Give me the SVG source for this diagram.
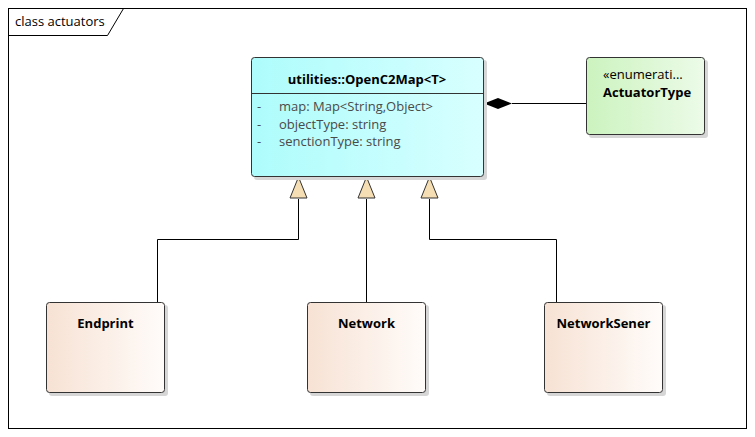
<svg xmlns="http://www.w3.org/2000/svg" width="755" height="437" viewBox="0 0 755 437">
<defs>
<linearGradient id="gCyan" x1="0" y1="0" x2="1" y2="0"><stop offset="0" stop-color="#aefcfc"/><stop offset="1" stop-color="#d8ffff"/></linearGradient>
<linearGradient id="gGreen" x1="0" y1="0" x2="1" y2="0"><stop offset="0" stop-color="#ccf3bf"/><stop offset="1" stop-color="#ecfbe8"/></linearGradient>
<linearGradient id="gPeach" x1="0" y1="0" x2="1" y2="0"><stop offset="0" stop-color="#f7e2d4"/><stop offset="1" stop-color="#fffcfa"/></linearGradient>
</defs>
<style>
text{font-family:"Open Sans","Noto Sans","DejaVu Sans",sans-serif;font-size:13px;fill:#000}
.b{font-weight:bold}
.attr{fill:#4a4a4a}
.shadow{fill:#d6d6d6}
.box{stroke:#333;stroke-width:1}
.conn{fill:none;stroke:#000;stroke-width:1}
.gen{fill:#f5deb3;stroke:#333;stroke-width:1}
</style>
<rect x="0" y="0" width="755" height="437" fill="#fff"/>
<g id="frame">
<rect x="8.5" y="8.5" width="738" height="420" fill="none" stroke="#000"/>
<path d="M8.5,35.5 H107.5 L123.5,8.5" fill="none" stroke="#000"/>
<text x="15" y="26" font-size="14">class actuators</text>
</g>
<g id="connectors">
<path class="conn" d="M157.5,302 V239.5 H298.5 V199"/>
<path class="conn" d="M366.5,302 V199"/>
<path class="conn" d="M556.5,302 V239.5 H429.5 V199"/>
<path class="gen" d="M298.5,177 L307,198 L290,198 Z"/>
<path class="gen" d="M366.5,177 L375,198 L358,198 Z"/>
<path class="gen" d="M429.5,177 L438,198 L421,198 Z"/>
<path class="conn" d="M512,103.5 H586"/>
<path d="M484,103.5 L498,98 L512,103.5 L498,109 Z" fill="#000"/>
</g>
<g id="OpenC2Map">
<rect class="shadow" x="254" y="60" width="233" height="120" rx="3"/>
<rect class="box" x="251.5" y="57.5" width="232" height="119" rx="3" fill="url(#gCyan)"/>
<line x1="251.5" y1="93.5" x2="483.5" y2="93.5" stroke="#333"/>
<text class="b" x="367" y="84" text-anchor="middle">utilities::OpenC2Map&lt;T&gt;</text>
<text class="attr" x="257" y="111">-</text>
<text class="attr" x="279" y="111">map: Map&lt;String,Object&gt;</text>
<text class="attr" x="257" y="129">-</text>
<text class="attr" x="279" y="129">objectType: string</text>
<text class="attr" x="257" y="146">-</text>
<text class="attr" x="279" y="146">senctionType: string</text>
</g>
<g id="ActuatorType">
<rect class="shadow" x="589" y="60" width="119" height="78" rx="3"/>
<rect class="box" x="586.5" y="57.5" width="118" height="77" rx="3" fill="url(#gGreen)"/>
<text x="603" y="79">«enumerati...</text>
<text class="b" x="603" y="97">ActuatorType</text>
</g>
<g id="Endprint">
<rect class="shadow" x="49" y="305" width="119" height="91" rx="3"/>
<rect class="box" x="46.5" y="302.5" width="118" height="90" rx="3" fill="url(#gPeach)"/>
<text class="b" x="105.5" y="328" text-anchor="middle">Endprint</text>
</g>
<g id="Network">
<rect class="shadow" x="310" y="305" width="119" height="91" rx="3"/>
<rect class="box" x="307.5" y="302.5" width="118" height="90" rx="3" fill="url(#gPeach)"/>
<text class="b" x="366.5" y="328" text-anchor="middle">Network</text>
</g>
<g id="NetworkSener">
<rect class="shadow" x="547" y="305" width="119" height="91" rx="3"/>
<rect class="box" x="544.5" y="302.5" width="118" height="90" rx="3" fill="url(#gPeach)"/>
<text class="b" x="603.5" y="328" text-anchor="middle">NetworkSener</text>
</g>
</svg>
